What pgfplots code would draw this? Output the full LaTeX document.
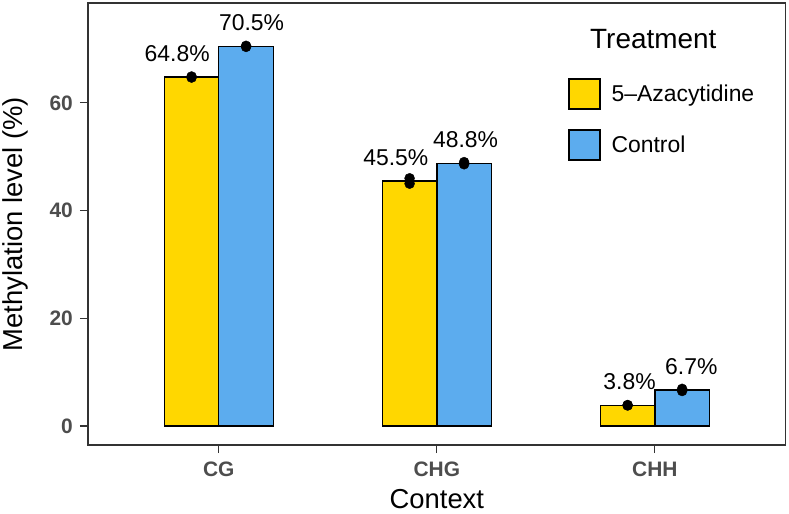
\documentclass[border=0pt]{standalone}
\usepackage{pgfplots}
\pgfplotsset{compat=1.18}
\usepackage{fontspec}
\setmainfont{Liberation Sans}

\definecolor{azagold}{HTML}{FFD700}
\definecolor{ctrlblue}{HTML}{5CACEE}
\definecolor{gridgray}{HTML}{333333}
\definecolor{ticklab}{HTML}{4D4D4D}

\newcommand{\labfont}{\fontsize{23}{23}\selectfont}
\newcommand{\tickfont}{\bfseries\fontsize{21}{21}\selectfont}

\begin{document}
\begin{tikzpicture}
\useasboundingbox (-88bp,-69bp) rectangle (701bp,445bp);
\begin{axis}[
    at={(0,0)}, anchor=south west,
    scale only axis,
    width=697.7bp, height=442bp,
    xmin=0.4, xmax=3.6,
    ymin=-3.53, ymax=78.55,
    xtick={1,2,3},
    xticklabels={CG,CHG,CHH},
    ytick={0,20,40,60},
    xtick pos=bottom, ytick pos=left,
    tick align=outside,
    major tick length=8bp,
    tick style={gridgray, line width=1.1bp},
    axis line style={gridgray, line width=1.1bp},
    /pgf/number format/assume math mode=true,
    yticklabel style={font=\tickfont, text=ticklab, inner sep=0pt, xshift=-7bp},
    xticklabel style={font=\tickfont, text=ticklab, inner sep=0pt, yshift=-9bp},
    xlabel={Context},
    ylabel={Methylation level (\%)},
    xlabel style={font=\fontsize{27.5}{27.5}\selectfont, at={(axis description cs:0.5,0)}, anchor=base, yshift=-63bp},
    ylabel style={font=\fontsize{27.5}{27.5}\selectfont, at={(axis description cs:-0.104,0.5)}, anchor=center},
    legend image code/.code={\draw[#1, line width=1.3bp] (0bp,-15bp) rectangle (31bp,15bp);},
    legend style={draw=none, fill=none, inner sep=0pt, outer sep=0pt,
        at={(rel axis cs:0.6884,0.8296)}, anchor=north west,
        font=\fontsize{23}{23}\selectfont,
        row sep=19.6bp, column sep=11bp,
        nodes={inner sep=0pt}},
    legend cell align=left,
]
% mean methylation per context
\addplot[ybar, bar width=0.25, bar shift=-0.125, fill=azagold, draw=black, line width=1.3bp]
    coordinates {(1,64.8) (2,45.5) (3,3.8)};
\addlegendentry{5--Azacytidine}
\addplot[ybar, bar width=0.25, bar shift=0.125, fill=ctrlblue, draw=black, line width=1.3bp]
    coordinates {(1,70.5) (2,48.8) (3,6.7)};
\addlegendentry{Control}

% replicate points
\addplot[only marks, mark=*, mark size=5bp, black, forget plot]
    coordinates {(0.875,64.7) (0.875,64.9) (1.875,45.0) (1.875,46.0) (2.875,3.8) (2.875,3.9)};
\addplot[only marks, mark=*, mark size=5bp, black, forget plot]
    coordinates {(1.125,70.4) (1.125,70.6) (2.125,48.6) (2.125,49.0) (3.125,6.5) (3.125,6.9)};

% value labels
\node[anchor=base, font=\labfont] at (axis cs:0.809,67.7) {64.8\%};
\node[anchor=base, font=\labfont] at (axis cs:1.150,73.4) {70.5\%};
\node[anchor=base, font=\labfont] at (axis cs:1.812,48.4) {45.5\%};
\node[anchor=base, font=\labfont] at (axis cs:2.132,51.7) {48.8\%};
\node[anchor=base, font=\labfont] at (axis cs:2.884,6.8) {3.8\%};
\node[anchor=base, font=\labfont] at (axis cs:3.167,9.6) {6.7\%};

\node[anchor=base west, font=\fontsize{28}{28}\selectfont] at (rel axis cs:0.7148,0.8975) {Treatment};
\end{axis}
\end{tikzpicture}
\end{document}
